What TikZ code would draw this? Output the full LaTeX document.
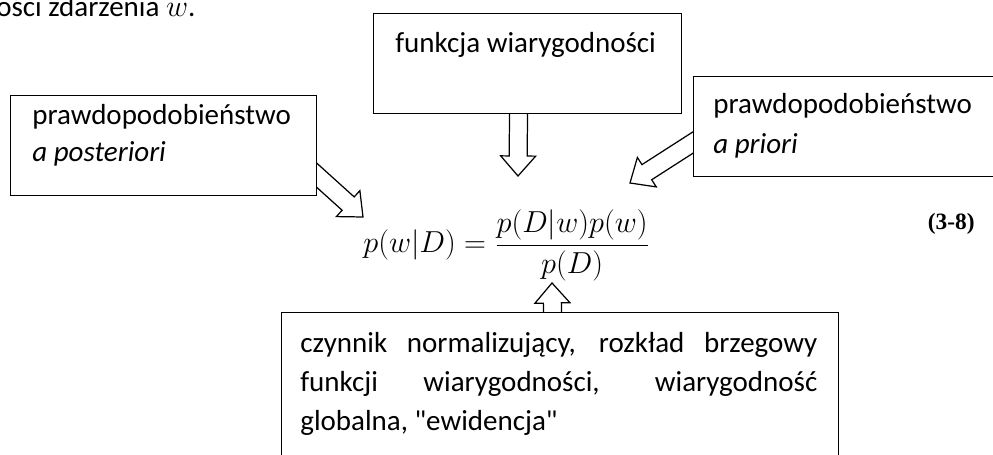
\documentclass[tikz,border=0pt]{standalone}
\usepackage{fontspec}
\setmainfont{Carlito}[Ligatures=TeXOff]
\newfontfamily\eqnofont{Liberation Serif}
\usetikzlibrary{calc, backgrounds}

\begin{document}
\begin{tikzpicture}[
    note/.style={draw, fill=white, line width=0.6pt, anchor=north west,
      inner sep=0pt, minimum height=2cm, minimum width=#1},
    notetext/.style={anchor=base west, inner sep=0pt,
      font=\fontsize{16.5}{21}\selectfont},
    fatarrow/.style={draw, fill=white, line width=0.7pt, to path={
      ($(\tikztostart)!-0.3cm!(\tikztotarget)$) coordinate (fa-a)
      ($(\tikztotarget)!0.4cm!(\tikztostart)$) coordinate (fa-c)
      ($(fa-a)!0.18cm!90:(\tikztotarget)$)
        -- ($(fa-c)!0.18cm!90:(\tikztotarget)$)
        -- ($(fa-c)!0.35cm!90:(\tikztotarget)$)
        -- (\tikztotarget)
        -- ($(fa-c)!0.35cm!-90:(\tikztotarget)$)
        -- ($(fa-c)!0.18cm!-90:(\tikztotarget)$)
        -- ($(fa-a)!0.18cm!-90:(\tikztotarget)$) -- cycle}}]

  \useasboundingbox (0,0) rectangle (19.86,9.10);
  \clip (0,0) rectangle (19.86,9.10);

  \node[notetext] (prevline) at (-0.08,8.76) {ości zdarzenia $w$.};

  \node[note=6.16cm] (likebox) at (7.46,8.84) {};
  \node[note=6.12cm] (postbox) at (0.20,7.20) {};
  \node[note=6.16cm] (priorbox) at (13.86,7.58) {};
  \node[note=11.14cm, minimum height=3.2cm] (evidbox) at (5.62,2.86) {};

  \node[notetext] (liketext) at ($(likebox.north west)+(0.44,-0.80)$)
    {funkcja wiarygodności};
  \node[notetext] (posttext) at ($(postbox.north west)+(0.44,-0.60)$)
    {\parbox[t]{5.5cm}{prawdopodobieństwo\\ \textit{a posteriori}}};
  \node[notetext] (priortext) at ($(priorbox.north west)+(0.40,-0.76)$)
    {\parbox[t]{5.5cm}{prawdopodobieństwo\\[1.5pt] \textit{a priori}}};
  \node[notetext, font=\fontsize{16.5}{22}\selectfont] (evidtext)
    at ($(evidbox.north west)+(0.38,-0.82)$)
    {\parbox[t]{10.34cm}{%
     \makebox[10.34cm][s]{czynnik normalizujący, rozkład brzegowy}\\
     \makebox[10.34cm][s]{funkcji wiarygodności, wiarygodność}\\
     globalna, "ewidencja"}};

  \node[anchor=base west, inner sep=0pt, font=\fontsize{17}{20}\selectfont]
    (bayes) at (7.26,4.04) {$\displaystyle p(w|D)=\frac{p(D|w)p(w)}{p(D)}$};
  \node[anchor=base east, inner sep=0pt, font=\fontsize{13.3}{16}\eqnofont\bfseries]
    (eqno) at (19.50,4.50) {(3-8)};

  \coordinate (liketail) at ($(likebox.south)+(-0.18,0)$);
  \coordinate (liketip) at (10.36,5.58);
  \coordinate (posttail) at ($(postbox.east)+(0,-0.60)$);
  \coordinate (posttip) at (7.26,4.76);
  \coordinate (priortail) at ($(priorbox.west)+(0,-0.32)$);
  \coordinate (priortip) at (12.60,5.44);
  \coordinate (evidtail) at ($(evidbox.north)+(-0.15,0)$);
  \coordinate (evidtip) at (11.04,3.44);

  \begin{scope}[on background layer]
    \draw[fatarrow] (liketail) to (liketip);
    \draw[fatarrow] (posttail) to (posttip);
    \draw[fatarrow] (priortail) to (priortip);
    \draw[fatarrow] (evidtail) to (evidtip);
  \end{scope}
\end{tikzpicture}
\end{document}
